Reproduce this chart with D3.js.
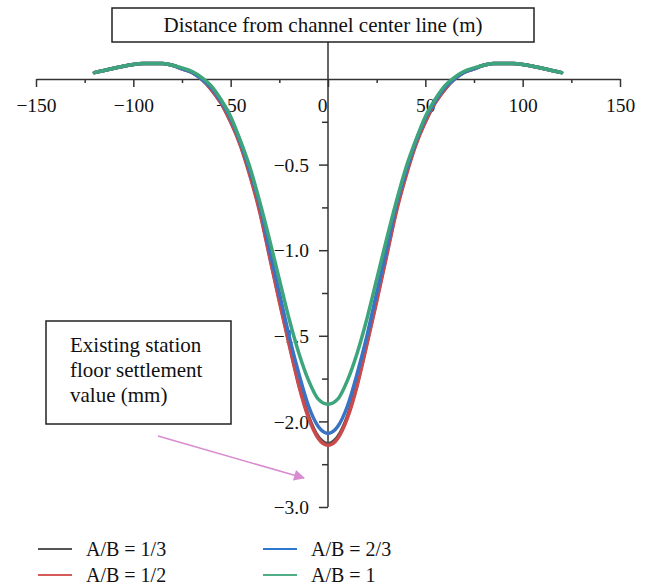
<!DOCTYPE html>
<html>
<head>
<meta charset="utf-8">
<script src="https://cdn.jsdelivr.net/npm/d3@7"></script>
<style>
body { margin: 0; background: #fff; }
svg text { font-family: "Liberation Serif", "Times New Roman", serif; fill: #111; }
</style>
</head>
<body>
<div id="chart"></div>
<script>
'use strict';

// distance from channel center line (m)
var distance = [-120,-115,-110,-105,-100,-95,-90,-85,-80,-75,-70,-65,-60,-55,-50,-45,-40,-35,-30,-25,-20,-15,-10,-5,
    0,5,10,15,20,25,30,35,40,45,50,55,60,65,70,75,80,85,90,95,100,105,110,115,120];

// settlement values (mm)
var ab13 = [0.037,0.05,0.063,0.075,0.085,0.09,0.09,0.09,0.08,0.06,0.04,0.00,-0.06,-0.14,-0.25,-0.38,-0.56,-0.77,-1.03,-1.29,-1.54,-1.78,-1.97,-2.09,
    -2.13,-2.09,-1.97,-1.78,-1.54,-1.29,-1.03,-0.77,-0.56,-0.38,-0.25,-0.14,-0.06,0.00,0.04,0.06,0.08,0.09,0.09,0.09,0.085,0.075,0.063,0.05,0.037];
var ab12 = [0.037,0.05,0.063,0.075,0.085,0.09,0.09,0.09,0.08,0.06,0.04,0.00,-0.06,-0.14,-0.25,-0.39,-0.57,-0.78,-1.04,-1.30,-1.55,-1.79,-1.98,-2.10,
    -2.14,-2.10,-1.98,-1.79,-1.55,-1.30,-1.04,-0.78,-0.57,-0.39,-0.25,-0.14,-0.06,0.00,0.04,0.06,0.08,0.09,0.09,0.09,0.085,0.075,0.063,0.05,0.037];
var ab23 = [0.037,0.05,0.063,0.075,0.085,0.09,0.09,0.09,0.08,0.06,0.04,0.00,-0.05,-0.13,-0.23,-0.37,-0.54,-0.74,-1.00,-1.25,-1.50,-1.72,-1.91,-2.03,
    -2.07,-2.03,-1.91,-1.72,-1.50,-1.25,-1.00,-0.74,-0.54,-0.37,-0.23,-0.13,-0.05,0.00,0.04,0.06,0.08,0.09,0.09,0.09,0.085,0.075,0.063,0.05,0.037];
var ab1 = [0.037,0.05,0.063,0.075,0.085,0.09,0.09,0.09,0.08,0.065,0.045,0.01,-0.04,-0.12,-0.22,-0.36,-0.52,-0.72,-0.94,-1.17,-1.40,-1.60,-1.76,-1.87,
    -1.90,-1.87,-1.76,-1.60,-1.40,-1.17,-0.94,-0.72,-0.52,-0.36,-0.22,-0.12,-0.04,0.01,0.045,0.065,0.08,0.09,0.09,0.09,0.085,0.075,0.063,0.05,0.037];

var seriesNames = ['A/B = 1/3', 'A/B = 1/2', 'A/B = 2/3', 'A/B = 1'];
var seriesValues = [ab13, ab12, ab23, ab1];
var lineColors = ['#4d4d4d', '#cc4a4c', '#3a73c4', '#3da47c'];
var legendColors = ['#555555', '#d65a5a', '#2f78d0', '#4fae86'];

var xTicks = [-150, -100, -50, 0, 50, 100, 150];
var xTickLabels = ['\u2212150', '\u2212100', '\u221250', '0', '50', '100', '150'];
var xMinor = [-125, -75, -25, 25, 75, 125];
var yTicks = [-0.5, -1.0, -1.5, -2.0, -2.5];
var yTickLabels = ['\u22120.5', '\u22121.0', '\u22121.5', '\u22122.0', '\u22123.0'];
var yMinor = [-0.25, -0.75, -1.25, -1.75, -2.25];

var svg = d3.select('#chart')
    .append('svg')
    .attr('width', 650)
    .attr('height', 588);

var x = d3.scaleLinear().domain([-150, 150]).range([36, 620]);
var y = d3.scaleLinear().domain([0, -2.5]).range([79, 507]);

// x axis
var xAxis = svg.append('g')
    .attr('transform', 'translate(0,' + y(0) + ')')
    .call(d3.axisBottom(x).tickValues(xTicks).tickSize(8).tickSizeOuter(0)
        .tickFormat(function(d, i) { return xTickLabels[i]; }));
svg.append('g')
    .attr('transform', 'translate(0,' + y(0) + ')')
    .call(d3.axisBottom(x).tickValues(xMinor).tickSize(4).tickFormat(''))
    .select('.domain').remove();

xAxis.selectAll('text')
    .style('font-size', '19.5px')
    .attr('dy', null)
    .attr('y', 33)
    .attr('dx', function(d) { return d === 0 ? -6 : 0; });

// y axis
svg.append('line')
    .attr('x1', x(0)).attr('x2', x(0))
    .attr('y1', 42).attr('y2', y(-2.5))
    .attr('stroke', '#333').attr('stroke-width', 1.5);
var yAxis = svg.append('g')
    .attr('transform', 'translate(' + x(0) + ',0)')
    .call(d3.axisLeft(y).tickValues(yTicks).tickSize(9)
        .tickFormat(function(d, i) { return yTickLabels[i]; }));
yAxis.select('.domain').remove();
svg.append('g')
    .attr('transform', 'translate(' + x(0) + ',0)')
    .call(d3.axisLeft(y).tickValues(yMinor).tickSize(6).tickFormat(''))
    .select('.domain').remove();

yAxis.selectAll('text')
    .style('font-size', '19.5px')
    .attr('x', -19)
    .attr('dy', '0.34em');

svg.selectAll('.domain, .tick line')
    .attr('stroke', '#333')
    .attr('stroke-width', 1.5);

// curves
var line = d3.line()
    .x(function(d, i) { return x(distance[i]); })
    .y(function(d) { return y(d); })
    .curve(d3.curveMonotoneX);

svg.selectAll('path.curve')
    .data(seriesValues)
    .enter().append('path')
    .attr('class', 'curve')
    .attr('d', line)
    .attr('fill', 'none')
    .attr('stroke', function(d, i) { return lineColors[i]; })
    .attr('stroke-width', 3.5)
    .attr('stroke-linecap', 'round')
    .attr('stroke-linejoin', 'round');

// title box
svg.append('rect')
    .attr('x', 112).attr('y', 8)
    .attr('width', 422).attr('height', 34)
    .attr('fill', '#fff').attr('stroke', '#222').attr('stroke-width', 1.5);
svg.append('text')
    .attr('x', 323).attr('y', 32)
    .attr('text-anchor', 'middle')
    .style('font-size', '21px')
    .text('Distance from channel center line (m)');

// label box
svg.append('rect')
    .attr('x', 46).attr('y', 321)
    .attr('width', 185).attr('height', 103)
    .attr('fill', '#fff').attr('stroke', '#222').attr('stroke-width', 1.5);
var boxLines = ['Existing station', 'floor settlement', 'value (mm)'];
svg.selectAll('text.boxline')
    .data(boxLines)
    .enter().append('text')
    .attr('class', 'boxline')
    .attr('x', 70)
    .attr('y', function(d, i) { return 352 + i * 25; })
    .style('font-size', '21px')
    .text(function(d) { return d; });

// arrow
svg.append('defs').append('marker')
    .attr('id', 'head')
    .attr('viewBox', '0 0 10 10')
    .attr('refX', 9).attr('refY', 5)
    .attr('markerWidth', 14).attr('markerHeight', 11)
    .attr('markerUnits', 'userSpaceOnUse')
    .attr('orient', 'auto')
    .append('path')
    .attr('d', 'M0,0 L10,5 L0,10 Z')
    .attr('fill', '#d98bd0');
svg.append('line')
    .attr('x1', 158).attr('y1', 436)
    .attr('x2', 304).attr('y2', 478)
    .attr('stroke', '#d98bd0').attr('stroke-width', 1.5)
    .attr('marker-end', 'url(#head)');

// legend
var legend = svg.selectAll('g.legend')
    .data(seriesNames)
    .enter().append('g')
    .attr('class', 'legend')
    .attr('transform', function(d, i) {
        return 'translate(' + (i < 2 ? 38 : 263) + ',' + (i % 2 === 0 ? 549 : 575) + ')';
    });
legend.append('line')
    .attr('x1', 0).attr('x2', 34)
    .attr('stroke', function(d, i) { return legendColors[i]; })
    .attr('stroke-width', 2);
legend.append('text')
    .attr('x', 48).attr('y', 7)
    .style('font-size', '20px')
    .text(function(d) { return d; });
</script>
</body>
</html>
